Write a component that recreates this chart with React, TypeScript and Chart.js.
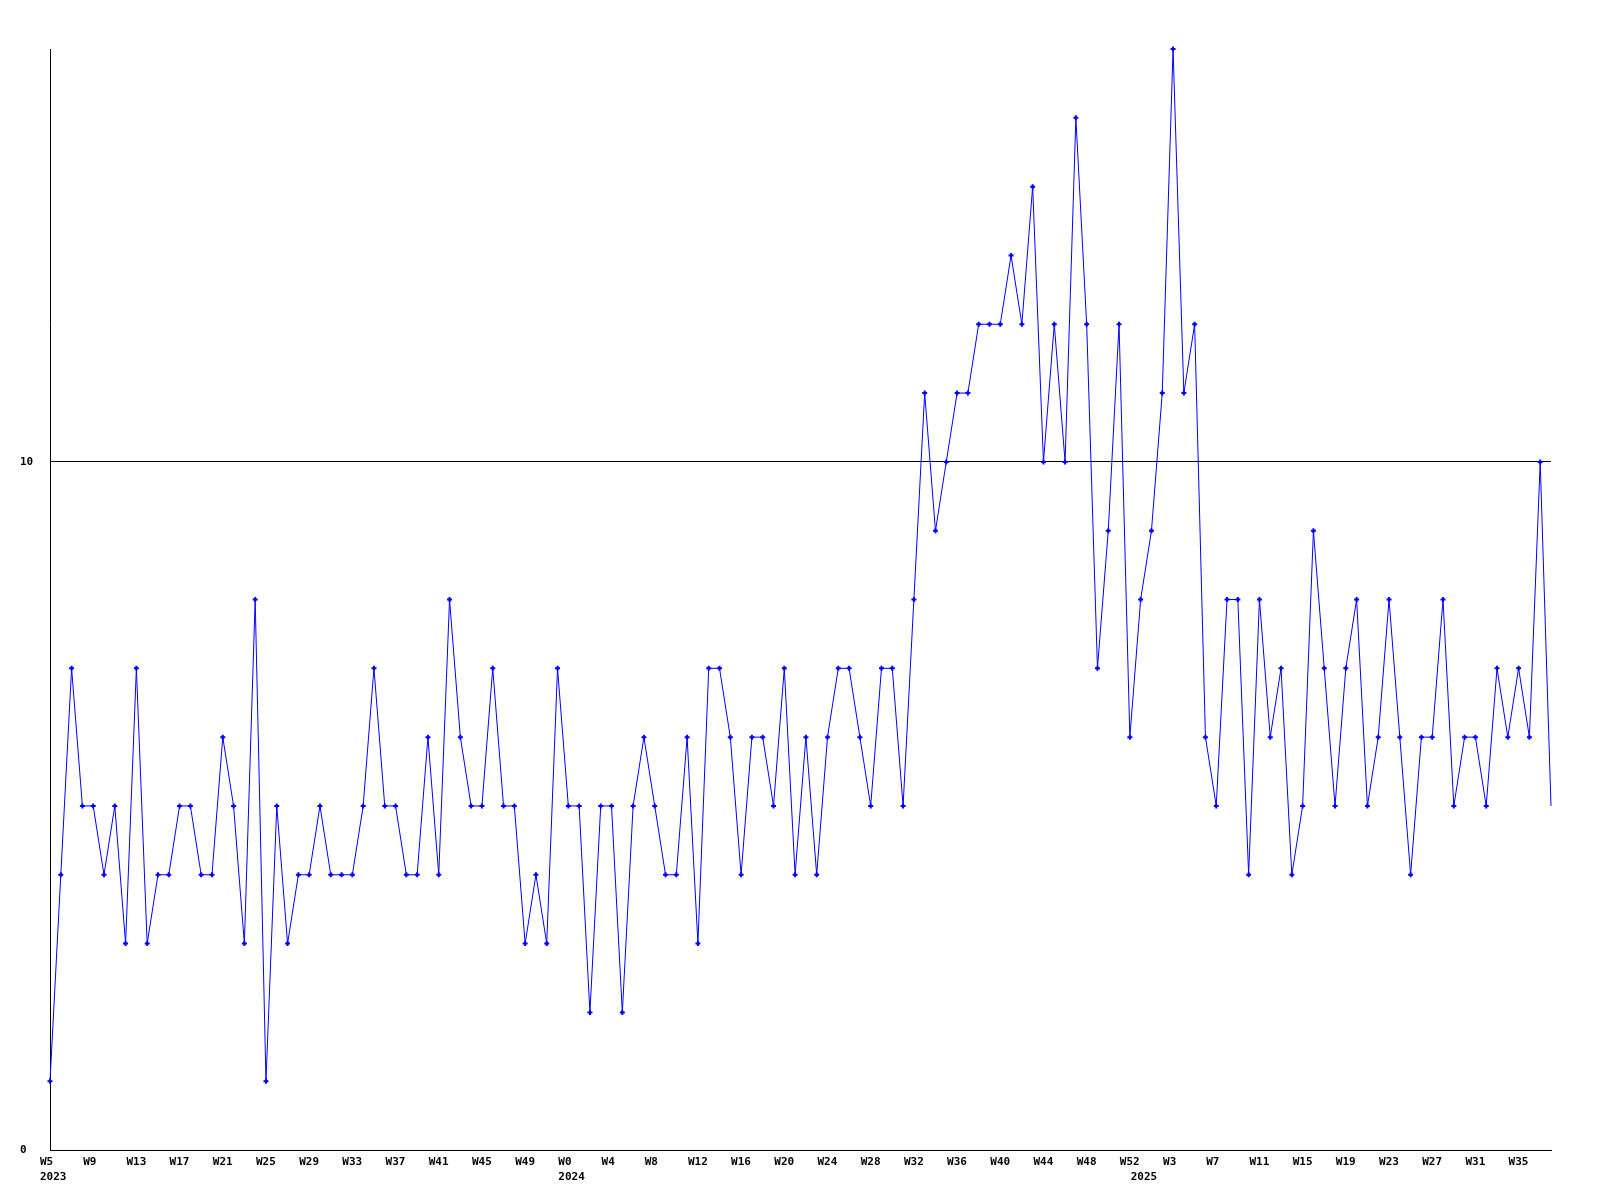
import React, { useEffect, useRef } from "react";
import { Chart, registerables } from "chart.js";

Chart.register(...registerables);

// Categories: ISO-like week numbers per year
const years = [2023, 2024, 2025];
const firstWeeks = [5, 0, 0];

// Series values per year
const values2023 = [
  1, 4, 7, 5, 5, 4, 5, 3, 7, 3,
  4, 4, 5, 5, 4, 4, 6, 5, 3, 8,
  1, 5, 3, 4, 4, 5, 4, 4, 4, 5,
  7, 5, 5, 4, 4, 6, 4, 8, 6, 5,
  5, 7, 5, 5, 3, 4, 3, 7,
];
const values2024 = [
  5, 5, 2, 5, 5, 2, 5, 6, 5, 4,
  4, 6, 3, 7, 7, 6, 4, 6, 6, 5,
  7, 4, 6, 4, 6, 7, 7, 6, 5, 7,
  7, 5, 8, 11, 9, 10, 11, 11, 12, 12,
  12, 13, 12, 14, 10, 12, 10, 15, 12, 7,
  9, 12, 6,
];
const values2025 = [
  8, 9, 11, 16, 11, 12, 6, 5, 8, 8,
  4, 8, 6, 7, 4, 5, 9, 7, 5, 7,
  8, 5, 6, 8, 6, 4, 6, 6, 8, 5,
  6, 6, 5, 7, 6, 7, 6, 10, 5,
];

// Y tick labels shown
const yTickValues = [0, 10];
const yMax = 16;
const labelEvery = 4;

const seriesByYear = [values2023, values2024, values2025];

export default function App() {
  const ref = useRef<HTMLCanvasElement | null>(null);

  useEffect(() => {
    if (!ref.current) return;
    const labels: string[] = [];
    const data: number[] = [];
    const yearStart: { index: number; year: number }[] = [];
    seriesByYear.forEach((vals, yi) => {
      yearStart.push({ index: labels.length, year: years[yi] });
      vals.forEach((v, j) => {
        labels.push("W" + (firstWeeks[yi] + j));
        data.push(v);
      });
    });
    const radii = data.map((_, i) => (i === data.length - 1 ? 0 : 2.5));
    const font = 'bold 11px "DejaVu Sans Mono", monospace';

    const xLabelPlugin = {
      id: "xLabels",
      afterDraw(chart: any) {
        const ctx = chart.ctx;
        const xs = chart.scales.x;
        const bottom = chart.chartArea.bottom;
        ctx.save();
        ctx.font = font;
        ctx.fillStyle = "#000";
        ctx.textAlign = "left";
        ctx.textBaseline = "middle";
        labels.forEach((lab, i) => {
          if (i % labelEvery === 0) {
            ctx.fillText(lab, xs.getPixelForValue(i) - 10, bottom + 12);
          }
        });
        yearStart.forEach((ys) => {
          ctx.fillText(String(ys.year), xs.getPixelForValue(ys.index) - 10, bottom + 27);
        });
        ctx.restore();
      },
    };

    const chart = new Chart(ref.current, {
      type: "line",
      data: {
        labels,
        datasets: [
          {
            data,
            borderColor: "#0000ff",
            backgroundColor: "#0000ff",
            borderWidth: 1,
            pointStyle: "cross",
            pointRadius: radii,
            pointBorderWidth: 2,
            pointBorderColor: "#0000ff",
            tension: 0,
            fill: false,
            clip: false as any,
          },
        ],
      },
      options: {
        animation: false,
        responsive: false,
        devicePixelRatio: 1,
        layout: { padding: { left: 20, top: 49, right: 49, bottom: 0 } },
        plugins: {
          legend: { display: false },
          tooltip: { enabled: false },
        },
        scales: {
          x: {
            type: "category",
            offset: false,
            grid: { display: false, drawTicks: false },
            border: { display: true, color: "#000", width: 1 },
            ticks: { display: false },
            afterFit: (s: any) => {
              s.height = 50;
            },
          },
          y: {
            min: 0,
            max: yMax,
            grid: { color: "#000", lineWidth: 1, drawTicks: false },
            border: { display: true, color: "#000", width: 1 },
            ticks: {
              crossAlign: "far",
              padding: 0,
              color: "#000",
              font: { family: '"DejaVu Sans Mono", monospace', size: 11, weight: "bold" },
            },
            afterBuildTicks: (s: any) => {
              s.ticks = yTickValues.map((v) => ({ value: v }));
            },
            afterFit: (s: any) => {
              s.width = 30;
            },
          },
        },
      },
      plugins: [xLabelPlugin],
    });
    return () => chart.destroy();
  }, []);

  return (
    <div style={{ position: "absolute", left: 0, top: 0, width: 1600, height: 1200, background: "#fff" }}>
      <canvas ref={ref} width={1600} height={1200} style={{ display: "block" }} />
    </div>
  );
}
